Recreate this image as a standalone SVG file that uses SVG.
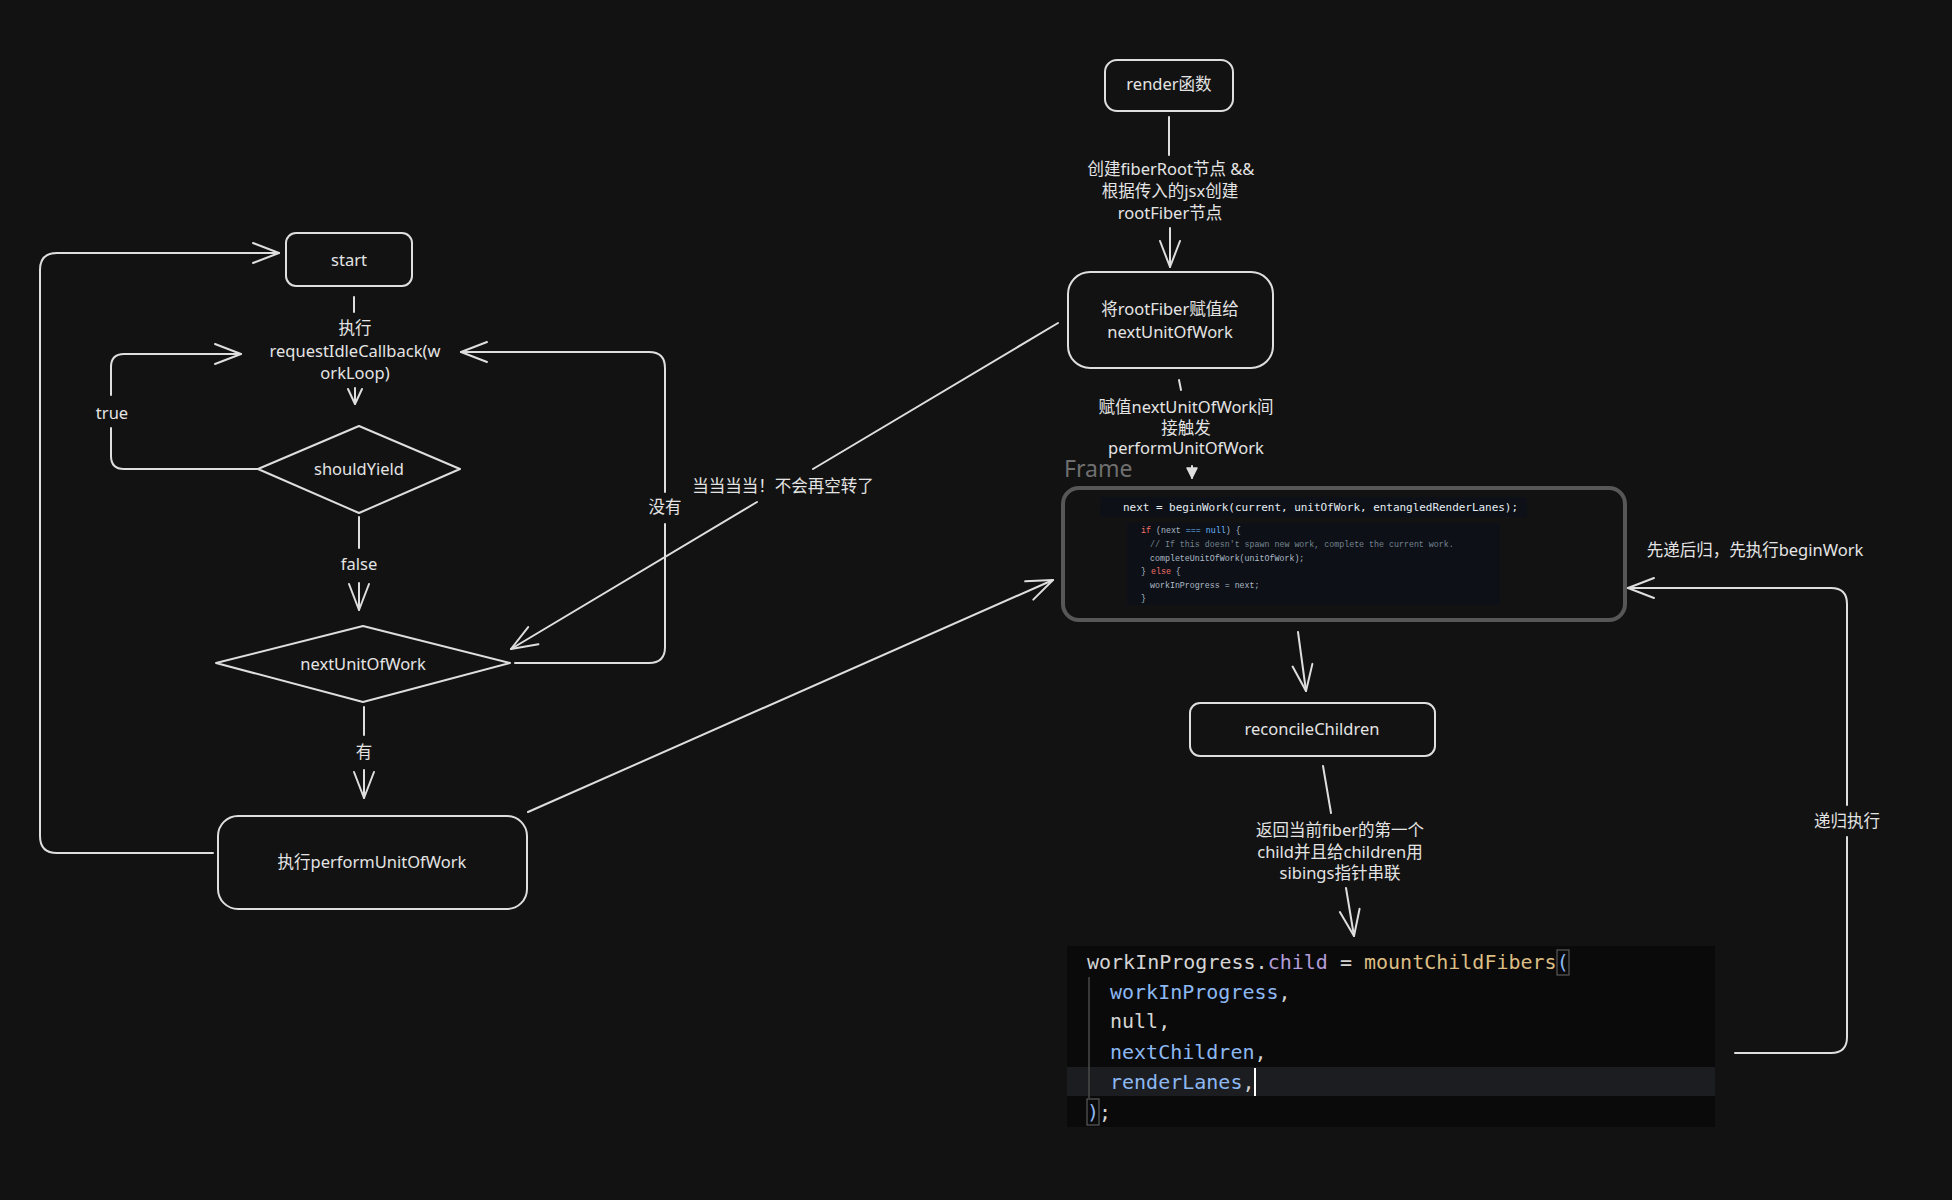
<svg xmlns="http://www.w3.org/2000/svg" width="1952" height="1200" viewBox="0 0 1952 1200">
<style>
.bg{fill:#121212}
.node{fill:none;stroke:#dedede;stroke-width:2}
.frame{fill:none;stroke:#575757;stroke-width:4}
.edge{fill:none;stroke:#dedede;stroke-width:2;stroke-linecap:round;stroke-linejoin:round}
.lbl{font-family:"Noto Sans","Noto Sans CJK SC",sans-serif;font-size:16.5px;fill:#e4e4e4;text-anchor:middle;dominant-baseline:central}
.code1{font-family:"DejaVu Sans Mono","Liberation Mono",monospace;font-size:11px;fill:#e6edf3;dominant-baseline:central}
.code2{font-family:"Liberation Mono","DejaVu Sans Mono",monospace;font-size:8.3px;fill:#adbac7;dominant-baseline:central}
.code3{font-family:"DejaVu Sans Mono","Liberation Mono",monospace;font-size:20px;fill:#d4d4d4;dominant-baseline:central}
.kw{fill:#f47067}.bl{fill:#6cb6ff}.cm{fill:#768390}
.pr{fill:#b39ddb}.fn{fill:#dcbd84}.ar{fill:#8cb8f2}
</style>
<defs>
<marker id="arr" viewBox="-30 -14 32 28" markerWidth="32" markerHeight="28" refX="0" refY="0" orient="auto" markerUnits="userSpaceOnUse">
<path d="M-26,-10 L0,0 L-26,10" fill="none" stroke="#dedede" stroke-width="2" stroke-linecap="round" stroke-linejoin="round"/>
</marker>
<marker id="arrs" viewBox="-18 -10 20 20" markerWidth="20" markerHeight="20" refX="0" refY="0" orient="auto" markerUnits="userSpaceOnUse">
<path d="M-15,-7 L0,0 L-15,7" fill="none" stroke="#dedede" stroke-width="2" stroke-linecap="round" stroke-linejoin="round"/>
</marker>
<marker id="arrt" viewBox="-12 -8 14 16" markerWidth="14" markerHeight="16" refX="0" refY="0" orient="auto" markerUnits="userSpaceOnUse">
<path d="M-10,-5 L0,0 L-10,5 Z" fill="#dedede" stroke="#dedede" stroke-width="1.5" stroke-linejoin="round"/>
</marker>
</defs>
<rect class="bg" x="0" y="0" width="1952" height="1200"/>

<g id="connectors">
<path class="edge" d="M354,297 L354,312"/>
<path class="edge" d="M355,388 L355,404" marker-end="url(#arrs)"/>
<path class="edge" d="M258,469 L124,469 Q111,469 111,456 L111,428"/>
<path class="edge" d="M111,395 L111,367 Q111,354 124,354 L241,354" marker-end="url(#arr)"/>
<path class="edge" d="M359,517 L359,548"/>
<path class="edge" d="M359,583 L359,610" marker-end="url(#arr)"/>
<path class="edge" d="M364,707 L364,735"/>
<path class="edge" d="M364,770 L364,798" marker-end="url(#arr)"/>
<path class="edge" d="M213,853 L57,853 Q40,853 40,836 L40,270 Q40,253 57,253 L279,253" marker-end="url(#arr)"/>
<path class="edge" d="M515,663 L649,663 Q665,663 665,647 L665,524"/>
<path class="edge" d="M665,492 L665,368 Q665,352 649,352 L461,352" marker-end="url(#arr)"/>
<path class="edge" d="M1058,323 L813,469"/>
<path class="edge" d="M757,502 L511,649" marker-end="url(#arr)"/>
<path class="edge" d="M528,812 L1053,580" marker-end="url(#arr)"/>
<path class="edge" d="M1169,117 L1169,155"/>
<path class="edge" d="M1170,228 L1170,267" marker-end="url(#arr)"/>
<path class="edge" d="M1179,380 L1181,390"/>
<path class="edge" d="M1192,466 L1192,478" marker-end="url(#arrt)"/>
<path class="edge" d="M1298,632 L1306,691" marker-end="url(#arr)"/>
<path class="edge" d="M1323,766 L1331,813"/>
<path class="edge" d="M1346,888 L1354,936" marker-end="url(#arr)"/>
<path class="edge" d="M1735,1053 L1831,1053 Q1847,1053 1847,1037 L1847,837"/>
<path class="edge" d="M1847,805 L1847,604 Q1847,588 1831,588 L1628,588" marker-end="url(#arr)"/>
<text class="lbl" x="355" y="327">执行</text>
<text class="lbl" x="355" y="350">requestIdleCallback(w</text>
<text class="lbl" x="355" y="372">orkLoop)</text>
<text class="lbl" x="112" y="412">true</text>
<text class="lbl" x="359" y="563">false</text>
<text class="lbl" x="364" y="751">有</text>
<text class="lbl" x="665" y="506">没有</text>
<text class="lbl" x="783" y="485">当当当当！不会再空转了</text>
<text class="lbl" x="1171" y="168">创建fiberRoot节点 &amp;&amp;</text>
<text class="lbl" x="1170" y="190">根据传入的jsx创建</text>
<text class="lbl" x="1170" y="212">rootFiber节点</text>
<text class="lbl" x="1186" y="406">赋值nextUnitOfWork间</text>
<text class="lbl" x="1186" y="427">接触发</text>
<text class="lbl" x="1186" y="447">performUnitOfWork</text>
<text class="lbl" x="1340" y="829">返回当前fiber的第一个</text>
<text class="lbl" x="1340" y="851">child并且给children用</text>
<text class="lbl" x="1340" y="872">sibings指针串联</text>
<text class="lbl" x="1755" y="549">先递后归，先执行beginWork</text>
<text class="lbl" x="1847" y="820">递归执行</text>
</g>

<g id="node-start">
<rect class="node" x="286" y="233" width="126" height="53" rx="10"/>
<text class="lbl" x="349" y="259">start</text>
</g>
<g id="node-shouldYield">
<path class="node" d="M359,426 L460,469 L359,513 L258,469 Z" stroke-linejoin="round"/>
<text class="lbl" x="359" y="468">shouldYield</text>
</g>
<g id="node-nextUnitOfWork">
<path class="node" d="M363,626 L510,663 L363,702 L216,663 Z" stroke-linejoin="round"/>
<text class="lbl" x="363" y="663">nextUnitOfWork</text>
</g>
<g id="node-performUnitOfWork">
<rect class="node" x="218" y="816" width="309" height="93" rx="20"/>
<text class="lbl" x="372" y="861">执行performUnitOfWork</text>
</g>
<g id="node-render">
<rect class="node" x="1105" y="60" width="128" height="51" rx="12"/>
<text class="lbl" x="1169" y="83">render函数</text>
</g>
<g id="node-rootFiber">
<rect class="node" x="1068" y="272" width="205" height="96" rx="22"/>
<text class="lbl" x="1170" y="308">将rootFiber赋值给</text>
<text class="lbl" x="1170" y="331">nextUnitOfWork</text>
</g>
<g id="node-frame">
<text x="1064" y="477" font-family="Noto Sans, Open Sans, sans-serif" font-size="23" fill="#6f6f6f">Frame</text>
<rect class="frame" x="1063" y="488" width="562" height="132" rx="16"/>
<rect x="1100" y="497" width="427" height="20" fill="#0d1117"/>
<text class="code1" x="1123" y="507" textLength="395">next = beginWork(current, unitOfWork, entangledRenderLanes);</text>
<rect x="1127" y="523" width="373" height="82" fill="#0d1117"/>
<text class="code2" x="1141" y="530"><tspan class="kw">if</tspan> (next <tspan class="bl">===</tspan> <tspan class="bl">null</tspan>) {</text>
<text class="code2 cm" x="1150" y="544">// If this doesn't spawn new work, complete the current work.</text>
<text class="code2" x="1150" y="558" fill="#e6edf3">completeUnitOfWork(unitOfWork);</text>
<text class="code2" x="1141" y="571">} <tspan class="kw">else</tspan> {</text>
<text class="code2" x="1150" y="585" fill="#e6edf3">workInProgress = next;</text>
<text class="code2" x="1141" y="598">}</text>
</g>
<g id="node-reconcileChildren">
<rect class="node" x="1190" y="703" width="245" height="53" rx="10"/>
<text class="lbl" x="1312" y="728">reconcileChildren</text>
</g>
<g id="node-mountChildFibers">
<rect x="1067" y="946" width="648" height="181" fill="#0a0a0a"/>
<rect x="1067" y="1067" width="648" height="29" fill="#1c1d20"/>
<line x1="1089" y1="977" x2="1089" y2="1098" stroke="#4a4a4a" stroke-width="1.5"/>
<rect x="1557" y="950" width="12" height="25" fill="none" stroke="#5a5a5a" stroke-width="1.2"/>
<rect x="1087" y="1099" width="12" height="26" fill="none" stroke="#5a5a5a" stroke-width="1.2"/>
<text class="code3" x="1087" y="962">workInProgress.<tspan class="pr">child</tspan> = <tspan class="fn">mountChildFibers</tspan><tspan class="ar">(</tspan></text>
<text class="code3 ar" x="1110" y="992">workInProgress<tspan fill="#d4d4d4">,</tspan></text>
<text class="code3" x="1110" y="1021">null,</text>
<text class="code3 ar" x="1110" y="1052">nextChildren<tspan fill="#d4d4d4">,</tspan></text>
<text class="code3 ar" x="1110" y="1082">renderLanes<tspan fill="#d4d4d4">,</tspan></text>
<line x1="1255" y1="1068" x2="1255" y2="1096" stroke="#ffffff" stroke-width="2"/>
<text class="code3" x="1087" y="1112"><tspan class="ar">)</tspan>;</text>
</g>
</svg>
